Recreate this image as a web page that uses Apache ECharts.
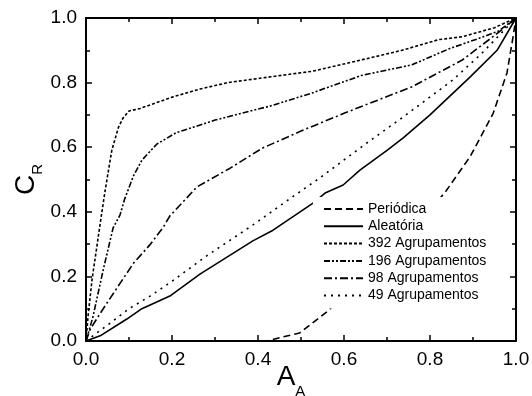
<!DOCTYPE html>
<html>
<head>
<meta charset="utf-8">
<script src="https://cdn.jsdelivr.net/npm/echarts@6/dist/echarts.min.js"></script>
<style>
	html, body { margin: 0; padding: 0; background: #fff; }
	#chart { width: 532px; height: 396px; }
</style>
</head>
<body>
<div id="chart"></div>
<script>
// A_A vs C_R curves
const periodica = [[0, 0], [0.42, 0], [0.45, 0.01], [0.497, 0.025], [0.56, 0.09], [0.65, 0.2], [0.75, 0.33], [0.835, 0.46], [0.893, 0.57], [0.947, 0.705], [0.979, 0.83], [0.993, 0.94], [1, 1]]
const aleatoria = [[0, 0], [0.033, 0.016], [0.095, 0.068], [0.13, 0.1], [0.195, 0.139], [0.265, 0.207], [0.388, 0.31], [0.435, 0.343], [0.528, 0.427], [0.556, 0.458], [0.598, 0.483], [0.637, 0.529], [0.7, 0.59], [0.737, 0.628], [0.8, 0.7], [0.893, 0.817], [0.956, 0.9], [1, 1]]
const agr392 = [[0, 0], [0.005, 0.08], [0.014, 0.19], [0.025, 0.29], [0.037, 0.4], [0.045, 0.47], [0.06, 0.59], [0.075, 0.66], [0.086, 0.69], [0.1, 0.712], [0.126, 0.72], [0.2, 0.755], [0.265, 0.78], [0.33, 0.8], [0.43, 0.818], [0.526, 0.835], [0.64, 0.87], [0.735, 0.9], [0.82, 0.933], [0.875, 0.942], [0.95, 0.97], [1, 1]]
const agr196 = [[0, 0], [0.016, 0.074], [0.04, 0.22], [0.063, 0.35], [0.079, 0.39], [0.09, 0.44], [0.11, 0.51], [0.13, 0.56], [0.165, 0.61], [0.21, 0.645], [0.28, 0.675], [0.3, 0.684], [0.43, 0.728], [0.526, 0.768], [0.64, 0.822], [0.758, 0.855], [0.845, 0.905], [0.914, 0.937], [0.96, 0.96], [1, 1]]
const agr98 = [[0, 0], [0.01, 0.037], [0.04, 0.1], [0.07, 0.16], [0.11, 0.24], [0.15, 0.3], [0.18, 0.353], [0.195, 0.387], [0.258, 0.477], [0.335, 0.535], [0.41, 0.597], [0.5, 0.65], [0.6, 0.705], [0.758, 0.787], [0.875, 0.87], [0.967, 0.963], [1, 1]]
const agr49 = [[0, 0], [0.02, 0.02], [0.056, 0.055], [0.1, 0.1], [0.149, 0.139], [0.2, 0.185], [0.28, 0.263], [0.389, 0.36], [0.48, 0.446], [0.544, 0.505], [0.653, 0.613], [0.737, 0.693], [0.853, 0.808], [0.92, 0.89], [1, 1]]

const seriesNames = ['Periódica', 'Aleatória', '392 Agrupamentos', '196 Agrupamentos', '98 Agrupamentos', '49 Agrupamentos']
const seriesData = [periodica, aleatoria, agr392, agr196, agr98, agr49]
const dashTypes = [[7, 4], 'solid', [3, 2], [6, 2, 2, 2, 2, 2], [8, 3, 2, 3], [2, 5]]

const fontFamily = '"Liberation Sans", Arial, sans-serif'

const chart = echarts.init(document.getElementById('chart'))

const frameAxis = (extra) => ({
	type: 'value',
	min: 0,
	max: 1,
	interval: 0.2,
	axisLine: { show: true, onZero: false, lineStyle: { color: '#000', width: 2 } },
	axisTick: { show: true, inside: true, length: 6, lineStyle: { color: '#000', width: 1.5 } },
	minorTick: { show: true, splitNumber: 2, length: 4, lineStyle: { color: '#000', width: 1.5 } },
	splitLine: { show: false },
	...extra
})

const tickLabel = {
	formatter: (v) => v.toFixed(1),
	color: '#000',
	fontFamily,
	fontSize: 19,
	margin: 9
}

// big letter + subscript, subscript pushed down by the bottom padding of the big one
const subName = (drop, tail) => ({
	c: { fontFamily, fontSize: 28, color: '#000', lineHeight: 28, padding: [0, 0, drop, 0] },
	s: { fontFamily, fontSize: 15, color: '#000', lineHeight: 16, verticalAlign: 'bottom', padding: [0, tail, 0, 0] }
})

const option = {
	animation: false,
	backgroundColor: '#fff',
	grid: { left: 86, right: 16, top: 18, bottom: 55, outerBoundsMode: 'none' },
	xAxis: [
		frameAxis({
			position: 'bottom',
			axisLabel: tickLabel,
			name: '{c|A}{s|A}',
			nameLocation: 'middle',
			nameGap: 30,
			nameMoveOverlap: false,
			nameTextStyle: { rich: subName(15, 20) }
		}),
		frameAxis({ position: 'top', axisLabel: { show: false } })
	],
	yAxis: [
		frameAxis({
			position: 'left',
			axisLabel: tickLabel,
			name: '{c|C}{s|R}',
			nameLocation: 'middle',
			nameRotate: 90,
			nameGap: 41,
			nameMoveOverlap: false,
			nameTextStyle: { rich: subName(10, 0) }
		}),
		frameAxis({ position: 'right', axisLabel: { show: false } })
	],
	legend: {
		orient: 'vertical',
		left: 313,
		top: 197,
		padding: [5, 6, 6, 10],
		backgroundColor: '#fff',
		itemWidth: 39,
		itemHeight: 14,
		itemGap: 3.3,
		textStyle: { fontFamily, fontSize: 14, color: '#000', lineHeight: 14 },
		data: seriesNames
	},
	series: seriesNames.map((name, i) => ({
		name,
		type: 'line',
		data: seriesData[i],
		symbol: 'none',
		z: 1,
		lineStyle: { color: '#000', width: 1.6, type: dashTypes[i] },
		itemStyle: { color: '#000', opacity: 0 }
	}))
}

chart.setOption(option)
</script>
</body>
</html>
